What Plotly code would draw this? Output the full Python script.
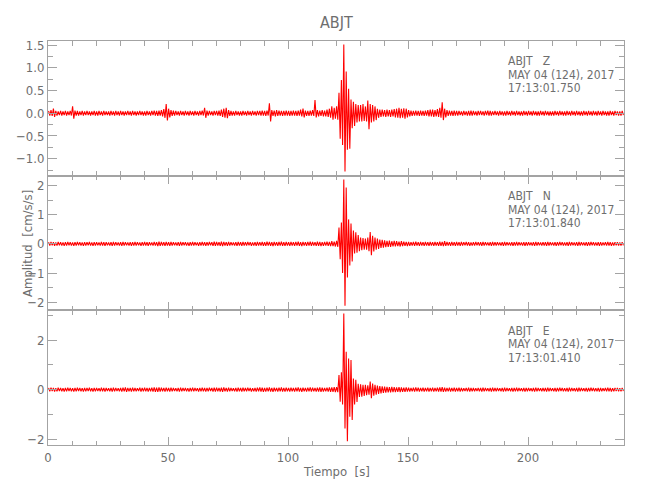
import plotly.graph_objects as go
from plotly.subplots import make_subplots

# ---------------- data ----------------
STATION = "ABJT"
DATE_TXT = "MAY 04 (124), 2017"
CHANNELS = ["Z", "N", "E"]
START_TIMES = ["17:13:01.750", "17:13:01.840", "17:13:01.410"]

# one-second bins, 0 .. 239 s
TIME_S = list(range(240))

# Z component: upper / lower envelope per second (cm/s/s)
Z_HI = [0.05,0.07,0.10,0.05,0.04,0.05,0.04,0.05,0.04,0.05,
        0.15,0.06,0.05,0.04,0.05,0.04,0.05,0.04,0.04,0.05,
        0.04,0.05,0.04,0.05,0.04,0.04,0.05,0.04,0.05,0.04,
        0.05,0.04,0.04,0.05,0.04,0.05,0.04,0.04,0.05,0.04,
        0.04,0.05,0.04,0.05,0.06,0.05,0.06,0.07,0.09,0.20,
        0.10,0.07,0.06,0.05,0.04,0.05,0.04,0.05,0.04,0.05,
        0.04,0.05,0.04,0.05,0.06,0.12,0.06,0.05,0.04,0.05,
        0.05,0.06,0.08,0.10,0.12,0.07,0.05,0.04,0.05,0.04,
        0.04,0.05,0.04,0.05,0.04,0.05,0.04,0.05,0.05,0.06,
        0.05,0.06,0.22,0.07,0.06,0.07,0.06,0.05,0.05,0.06,
        0.05,0.05,0.06,0.05,0.06,0.08,0.10,0.06,0.05,0.06,
        0.07,0.29,0.07,0.06,0.07,0.06,0.08,0.10,0.15,0.12,
        0.15,0.45,0.73,1.51,0.92,0.54,0.30,0.25,0.20,0.18,
        0.18,0.20,0.15,0.28,0.20,0.18,0.15,0.10,0.08,0.08,
        0.07,0.08,0.07,0.08,0.09,0.10,0.12,0.10,0.11,0.10,
        0.07,0.06,0.05,0.06,0.05,0.06,0.05,0.06,0.07,0.08,
        0.08,0.07,0.09,0.12,0.24,0.10,0.07,0.06,0.05,0.06,
        0.05,0.05,0.04,0.05,0.04,0.05,0.06,0.05,0.04,0.05,
        0.05,0.04,0.05,0.06,0.05,0.04,0.05,0.04,0.05,0.04,
        0.04,0.05,0.04,0.05,0.04,0.05,0.04,0.04,0.05,0.04,
        0.05,0.04,0.05,0.04,0.04,0.05,0.04,0.05,0.04,0.04,
        0.04,0.05,0.04,0.05,0.04,0.04,0.05,0.04,0.05,0.04,
        0.05,0.04,0.04,0.05,0.04,0.05,0.04,0.05,0.04,0.05,
        0.04,0.05,0.04,0.04,0.05,0.04,0.05,0.04,0.04,0.05]
Z_LO = [-0.05,-0.06,-0.08,-0.05,-0.04,-0.05,-0.04,-0.05,-0.04,-0.05,
        -0.12,-0.05,-0.05,-0.04,-0.05,-0.04,-0.04,-0.05,-0.04,-0.05,
        -0.05,-0.04,-0.05,-0.04,-0.04,-0.05,-0.04,-0.05,-0.04,-0.05,
        -0.04,-0.05,-0.04,-0.04,-0.05,-0.04,-0.05,-0.04,-0.04,-0.05,
        -0.05,-0.04,-0.05,-0.04,-0.05,-0.06,-0.05,-0.07,-0.10,-0.16,
        -0.09,-0.06,-0.05,-0.04,-0.05,-0.04,-0.05,-0.04,-0.05,-0.04,
        -0.05,-0.04,-0.05,-0.04,-0.05,-0.10,-0.05,-0.04,-0.05,-0.04,
        -0.05,-0.06,-0.08,-0.10,-0.11,-0.06,-0.05,-0.05,-0.04,-0.05,
        -0.05,-0.04,-0.05,-0.04,-0.05,-0.04,-0.05,-0.04,-0.05,-0.05,
        -0.06,-0.05,-0.18,-0.06,-0.07,-0.06,-0.05,-0.06,-0.05,-0.05,
        -0.06,-0.05,-0.05,-0.06,-0.05,-0.07,-0.09,-0.06,-0.06,-0.05,
        -0.06,-0.09,-0.07,-0.06,-0.07,-0.07,-0.08,-0.10,-0.14,-0.12,
        -0.14,-0.56,-0.70,-1.28,-0.80,-0.78,-0.33,-0.28,-0.20,-0.18,
        -0.18,-0.17,-0.18,-0.35,-0.20,-0.18,-0.15,-0.10,-0.08,-0.07,
        -0.08,-0.07,-0.08,-0.07,-0.09,-0.10,-0.11,-0.10,-0.12,-0.09,
        -0.07,-0.06,-0.05,-0.05,-0.06,-0.05,-0.06,-0.05,-0.07,-0.07,
        -0.08,-0.07,-0.08,-0.10,-0.15,-0.09,-0.06,-0.05,-0.06,-0.05,
        -0.05,-0.04,-0.05,-0.04,-0.05,-0.05,-0.05,-0.04,-0.05,-0.04,
        -0.04,-0.05,-0.04,-0.05,-0.05,-0.04,-0.04,-0.05,-0.04,-0.05,
        -0.05,-0.04,-0.05,-0.04,-0.05,-0.04,-0.05,-0.05,-0.04,-0.05,
        -0.04,-0.05,-0.04,-0.05,-0.05,-0.04,-0.05,-0.04,-0.05,-0.05,
        -0.05,-0.04,-0.05,-0.04,-0.05,-0.05,-0.04,-0.05,-0.04,-0.05,
        -0.04,-0.05,-0.05,-0.04,-0.05,-0.04,-0.05,-0.04,-0.05,-0.04,
        -0.05,-0.04,-0.05,-0.05,-0.04,-0.05,-0.04,-0.05,-0.05,-0.04]

# N component
N_HI = [0.06,0.07,0.06,0.05,0.07,0.06,0.05,0.06,0.07,0.06,
        0.05,0.06,0.07,0.06,0.05,0.06,0.06,0.07,0.05,0.06,
        0.06,0.05,0.07,0.06,0.06,0.05,0.06,0.07,0.06,0.05,
        0.06,0.07,0.06,0.05,0.06,0.06,0.07,0.06,0.05,0.06,
        0.07,0.06,0.06,0.05,0.07,0.06,0.08,0.07,0.06,0.07,
        0.06,0.07,0.06,0.05,0.06,0.07,0.06,0.06,0.05,0.06,
        0.07,0.06,0.05,0.06,0.07,0.06,0.06,0.07,0.06,0.08,
        0.07,0.06,0.08,0.07,0.06,0.07,0.06,0.05,0.06,0.07,
        0.06,0.07,0.06,0.07,0.06,0.05,0.06,0.07,0.06,0.07,
        0.06,0.08,0.07,0.06,0.07,0.06,0.07,0.08,0.06,0.07,
        0.06,0.07,0.06,0.07,0.08,0.06,0.07,0.06,0.07,0.08,
        0.07,0.06,0.08,0.07,0.06,0.07,0.08,0.07,0.09,0.08,
        0.10,0.56,0.73,2.21,1.93,0.84,0.70,0.46,0.40,0.30,
        0.22,0.20,0.18,0.22,0.41,0.28,0.22,0.18,0.15,0.14,
        0.12,0.10,0.11,0.09,0.10,0.09,0.08,0.09,0.08,0.07,
        0.07,0.06,0.07,0.08,0.06,0.07,0.06,0.07,0.06,0.07,
        0.06,0.07,0.06,0.08,0.07,0.09,0.07,0.06,0.07,0.06,
        0.07,0.06,0.07,0.06,0.07,0.06,0.05,0.06,0.07,0.06,
        0.06,0.07,0.06,0.05,0.06,0.07,0.06,0.06,0.05,0.06,
        0.07,0.06,0.05,0.06,0.06,0.07,0.06,0.05,0.06,0.06,
        0.06,0.05,0.06,0.07,0.06,0.05,0.06,0.06,0.07,0.06,
        0.05,0.06,0.06,0.07,0.06,0.05,0.06,0.07,0.06,0.05,
        0.06,0.07,0.06,0.05,0.06,0.06,0.07,0.06,0.05,0.06,
        0.06,0.05,0.06,0.07,0.06,0.05,0.06,0.06,0.05,0.06]
N_LO = [-0.06,-0.05,-0.07,-0.06,-0.05,-0.06,-0.07,-0.06,-0.05,-0.06,
        -0.07,-0.06,-0.05,-0.06,-0.07,-0.06,-0.05,-0.06,-0.07,-0.06,
        -0.05,-0.06,-0.06,-0.07,-0.05,-0.06,-0.07,-0.06,-0.05,-0.06,
        -0.07,-0.06,-0.05,-0.06,-0.07,-0.06,-0.06,-0.05,-0.07,-0.06,
        -0.06,-0.07,-0.05,-0.06,-0.06,-0.08,-0.07,-0.06,-0.07,-0.06,
        -0.07,-0.06,-0.05,-0.06,-0.07,-0.06,-0.05,-0.06,-0.07,-0.06,
        -0.06,-0.05,-0.07,-0.06,-0.06,-0.07,-0.06,-0.05,-0.07,-0.07,
        -0.06,-0.07,-0.08,-0.06,-0.07,-0.06,-0.05,-0.06,-0.07,-0.06,
        -0.07,-0.06,-0.06,-0.05,-0.07,-0.06,-0.07,-0.06,-0.06,-0.07,
        -0.07,-0.06,-0.07,-0.08,-0.06,-0.07,-0.06,-0.07,-0.07,-0.06,
        -0.07,-0.06,-0.07,-0.06,-0.07,-0.08,-0.06,-0.07,-0.06,-0.07,
        -0.06,-0.07,-0.07,-0.08,-0.07,-0.06,-0.07,-0.08,-0.08,-0.09,
        -0.10,-0.53,-1.00,-2.12,-1.15,-0.74,-0.60,-0.33,-0.30,-0.25,
        -0.22,-0.20,-0.20,-0.25,-0.39,-0.26,-0.20,-0.17,-0.14,-0.13,
        -0.11,-0.10,-0.10,-0.09,-0.09,-0.08,-0.09,-0.08,-0.07,-0.08,
        -0.07,-0.06,-0.07,-0.06,-0.07,-0.06,-0.07,-0.06,-0.07,-0.06,
        -0.07,-0.06,-0.07,-0.07,-0.08,-0.07,-0.06,-0.07,-0.06,-0.07,
        -0.06,-0.07,-0.06,-0.05,-0.06,-0.07,-0.06,-0.06,-0.05,-0.06,
        -0.07,-0.06,-0.05,-0.06,-0.07,-0.06,-0.06,-0.05,-0.06,-0.07,
        -0.06,-0.05,-0.06,-0.07,-0.06,-0.06,-0.05,-0.06,-0.07,-0.06,
        -0.05,-0.06,-0.07,-0.06,-0.05,-0.06,-0.06,-0.07,-0.06,-0.05,
        -0.06,-0.07,-0.06,-0.05,-0.06,-0.06,-0.07,-0.06,-0.05,-0.06,
        -0.07,-0.06,-0.05,-0.06,-0.07,-0.06,-0.05,-0.06,-0.06,-0.07,
        -0.06,-0.05,-0.06,-0.06,-0.07,-0.06,-0.05,-0.06,-0.06,-0.05]

# E component
E_HI = [0.07,0.08,0.07,0.06,0.08,0.07,0.06,0.07,0.08,0.07,
        0.06,0.07,0.08,0.07,0.06,0.07,0.07,0.08,0.06,0.07,
        0.07,0.06,0.08,0.07,0.07,0.06,0.07,0.08,0.07,0.06,
        0.07,0.08,0.09,0.07,0.07,0.08,0.07,0.06,0.08,0.07,
        0.08,0.07,0.07,0.08,0.09,0.08,0.09,0.08,0.07,0.08,
        0.07,0.08,0.07,0.06,0.07,0.08,0.07,0.07,0.06,0.07,
        0.08,0.07,0.06,0.07,0.08,0.07,0.07,0.08,0.07,0.08,
        0.08,0.07,0.08,0.09,0.07,0.08,0.07,0.06,0.07,0.08,
        0.07,0.08,0.07,0.08,0.07,0.06,0.07,0.08,0.09,0.08,
        0.07,0.08,0.09,0.07,0.08,0.07,0.08,0.09,0.07,0.08,
        0.07,0.08,0.07,0.08,0.09,0.07,0.08,0.07,0.08,0.09,
        0.08,0.07,0.08,0.09,0.08,0.07,0.08,0.09,0.09,0.10,
        0.10,0.59,0.70,3.08,1.53,1.26,1.20,0.45,0.40,0.24,
        0.22,0.20,0.20,0.18,0.33,0.25,0.20,0.16,0.14,0.13,
        0.12,0.11,0.10,0.11,0.10,0.09,0.10,0.09,0.08,0.09,
        0.08,0.07,0.08,0.09,0.08,0.07,0.08,0.07,0.08,0.07,
        0.08,0.07,0.08,0.09,0.10,0.08,0.07,0.08,0.07,0.08,
        0.07,0.08,0.07,0.06,0.07,0.08,0.07,0.07,0.06,0.07,
        0.07,0.08,0.07,0.06,0.07,0.08,0.07,0.07,0.06,0.07,
        0.08,0.07,0.06,0.07,0.07,0.08,0.07,0.06,0.07,0.07,
        0.07,0.06,0.07,0.08,0.07,0.06,0.07,0.07,0.08,0.07,
        0.06,0.07,0.07,0.08,0.07,0.06,0.07,0.08,0.07,0.06,
        0.07,0.08,0.07,0.06,0.07,0.07,0.08,0.07,0.06,0.07,
        0.07,0.06,0.07,0.08,0.07,0.06,0.07,0.07,0.06,0.07]
E_LO = [-0.07,-0.06,-0.08,-0.07,-0.06,-0.07,-0.08,-0.07,-0.06,-0.07,
        -0.08,-0.07,-0.06,-0.07,-0.08,-0.07,-0.06,-0.07,-0.08,-0.07,
        -0.06,-0.07,-0.07,-0.08,-0.06,-0.07,-0.08,-0.07,-0.06,-0.07,
        -0.08,-0.07,-0.09,-0.07,-0.08,-0.07,-0.07,-0.06,-0.08,-0.07,
        -0.07,-0.08,-0.07,-0.08,-0.09,-0.09,-0.08,-0.07,-0.08,-0.07,
        -0.08,-0.07,-0.06,-0.07,-0.08,-0.07,-0.06,-0.07,-0.08,-0.07,
        -0.07,-0.06,-0.08,-0.07,-0.07,-0.08,-0.07,-0.06,-0.08,-0.08,
        -0.07,-0.08,-0.09,-0.07,-0.08,-0.07,-0.06,-0.07,-0.08,-0.07,
        -0.08,-0.07,-0.07,-0.06,-0.08,-0.07,-0.08,-0.07,-0.08,-0.09,
        -0.08,-0.07,-0.08,-0.09,-0.07,-0.08,-0.07,-0.08,-0.08,-0.07,
        -0.08,-0.07,-0.08,-0.07,-0.08,-0.09,-0.07,-0.08,-0.07,-0.08,
        -0.07,-0.08,-0.08,-0.09,-0.08,-0.07,-0.08,-0.09,-0.09,-0.10,
        -0.10,-0.49,-0.60,-1.57,-2.09,-1.10,-1.23,-0.60,-0.50,-0.30,
        -0.28,-0.25,-0.22,-0.20,-0.35,-0.24,-0.20,-0.17,-0.15,-0.13,
        -0.12,-0.11,-0.11,-0.10,-0.10,-0.09,-0.10,-0.09,-0.09,-0.08,
        -0.08,-0.07,-0.08,-0.07,-0.08,-0.07,-0.08,-0.07,-0.08,-0.07,
        -0.08,-0.07,-0.08,-0.08,-0.09,-0.08,-0.07,-0.08,-0.07,-0.08,
        -0.07,-0.08,-0.07,-0.06,-0.07,-0.08,-0.07,-0.07,-0.06,-0.07,
        -0.08,-0.07,-0.06,-0.07,-0.08,-0.07,-0.07,-0.06,-0.07,-0.08,
        -0.07,-0.06,-0.07,-0.08,-0.07,-0.07,-0.06,-0.07,-0.08,-0.07,
        -0.06,-0.07,-0.08,-0.07,-0.06,-0.07,-0.07,-0.08,-0.07,-0.06,
        -0.07,-0.08,-0.07,-0.06,-0.07,-0.07,-0.08,-0.07,-0.06,-0.07,
        -0.08,-0.07,-0.06,-0.07,-0.08,-0.07,-0.06,-0.07,-0.07,-0.08,
        -0.07,-0.06,-0.07,-0.07,-0.08,-0.07,-0.06,-0.07,-0.07,-0.06]

Y_RANGES = [[-1.372, 1.588], [-2.28, 2.34], [-2.24, 3.21]]
Y_DTICK = [0.5, 1, 2]
Y_MINOR = [0.25, 0.5, 1]
Y_FORMAT = [".1f", "d", "d"]
X_RANGE = [0, 240]

# ---------------- styling ----------------
FONT = "DejaVu Sans Condensed, Liberation Sans Narrow, Roboto Condensed, sans-serif"
TXT = "#6e6e6e"
AX = "#a3a3a3"
TRACE = "#ff0000"

series = [(Z_HI, Z_LO), (N_HI, N_LO), (E_HI, E_LO)]

fig = make_subplots(rows=3, cols=1, shared_xaxes=True, vertical_spacing=0)

for r, (hi, lo) in enumerate(series, start=1):
    # trace swings to the bin's maximum, then to its minimum, each second
    xs, ys = [], []
    for t, h, l in zip(TIME_S, hi, lo):
        xs += [t + 0.25, t + 0.75]
        ys += [h, l]
    fig.add_trace(go.Scatter(x=xs, y=ys, mode="lines",
                             line=dict(color=TRACE, width=1.1),
                             hoverinfo="skip", showlegend=False),
                  row=r, col=1)

    fig.update_yaxes(row=r, col=1, range=Y_RANGES[r - 1], dtick=Y_DTICK[r - 1],
                     tick0=0, tickformat=Y_FORMAT[r - 1],
                     showline=True, linecolor=AX, linewidth=1, mirror="ticks",
                     ticks="inside", ticklen=9, tickcolor=AX, tickwidth=1,
                     minor=dict(dtick=Y_MINOR[r - 1], tick0=0, ticks="inside",
                                ticklen=5, tickcolor=AX, tickwidth=1),
                     showgrid=False, zeroline=False,
                     tickfont=dict(family=FONT, size=13, color=TXT))
    fig.update_xaxes(row=r, col=1, range=X_RANGE, dtick=50, tick0=0,
                     showline=True, linecolor=AX, linewidth=1, mirror="ticks",
                     ticks="inside", ticklen=8, tickcolor=AX, tickwidth=1,
                     minor=dict(dtick=10, tick0=0, ticks="inside", ticklen=4.5,
                                tickcolor=AX, tickwidth=1),
                     showgrid=False, zeroline=False,
                     showticklabels=(r == 3),
                     tickfont=dict(family=FONT, size=13, color=TXT))

# channel info annotations
line_offsets = [20.5, 34.0, 47.5]
panel_h = 404.3 / 3
for r in range(1, 4):
    yref = "y domain" if r == 1 else f"y{r} domain"
    xref = "x" if r == 1 else f"x{r}"
    lines = [f"{STATION}   {CHANNELS[r-1]}", DATE_TXT, START_TIMES[r-1]]
    for off, txt in zip(line_offsets, lines):
        fig.add_annotation(x=191, xref=xref, y=1 - off / panel_h, yref=yref,
                           text=txt, showarrow=False, xanchor="left",
                           yanchor="middle",
                           font=dict(family=FONT, size=12, color=TXT))

# axis titles and figure title as paper annotations
fig.add_annotation(text="Amplitud  [cm/s/s]", x=-0.0365, xref="paper",
                   y=0.5, yref="paper", textangle=-90, showarrow=False,
                   xanchor="center", yanchor="middle",
                   font=dict(family=FONT, size=13, color=TXT))
fig.add_annotation(text="Tiempo  [s]", x=0.5, xref="paper",
                   y=-0.066, yref="paper", showarrow=False,
                   xanchor="center", yanchor="middle",
                   font=dict(family=FONT, size=13, color=TXT))
fig.add_annotation(text=STATION, x=0.5, xref="paper",
                   y=1.045, yref="paper", showarrow=False,
                   xanchor="center", yanchor="middle",
                   font=dict(family=FONT, size=16, color=TXT))

# the page body keeps an 8 px default margin, so the figure is 8 px smaller
fig.update_layout(width=642, height=492,
                  margin=dict(l=40, r=26, t=33, b=55, autoexpand=False),
                  paper_bgcolor="white", plot_bgcolor="white",
                  font=dict(family=FONT, color=TXT))

fig.write_html("out.html")
